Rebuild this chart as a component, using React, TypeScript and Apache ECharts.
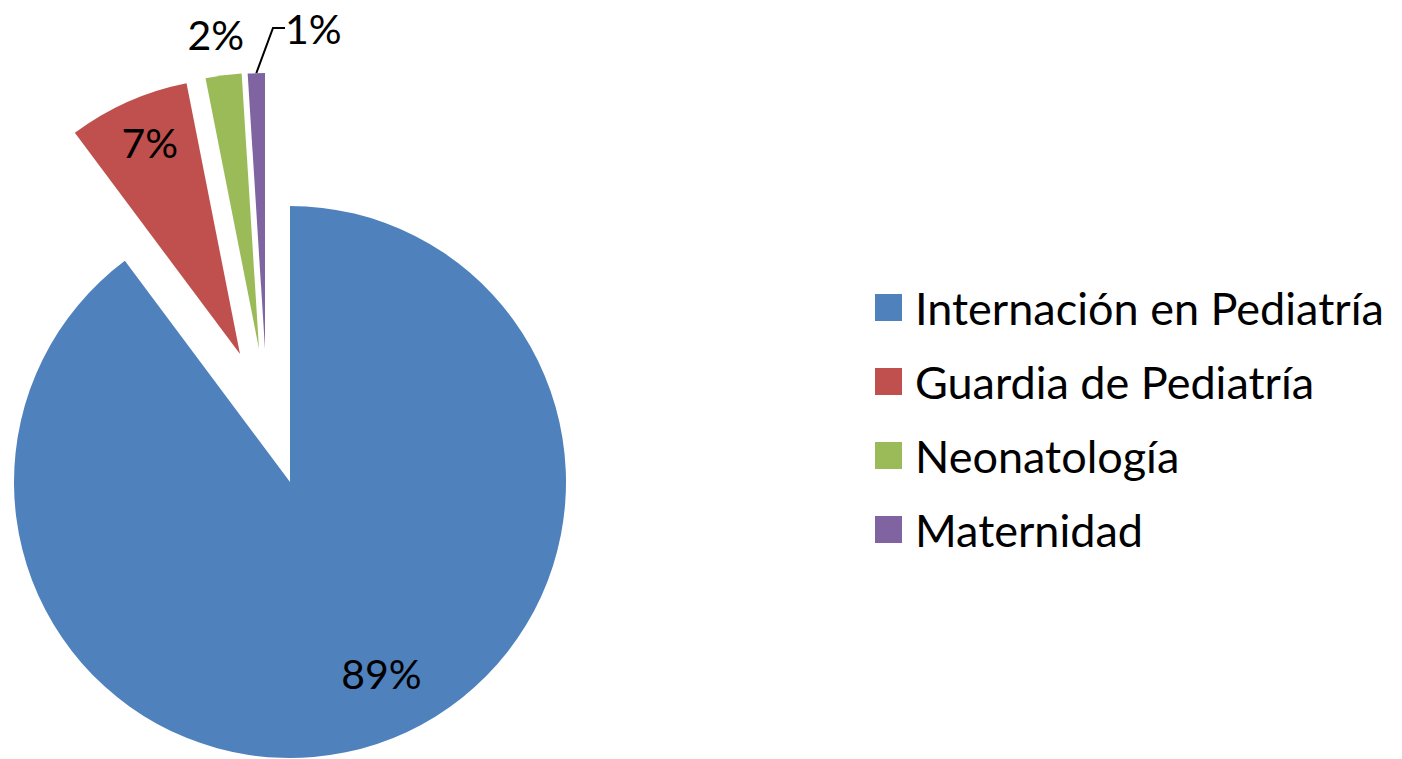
import React, { useEffect, useRef } from "react";
import * as echarts from "echarts";

// ---- data ----
const categories = [
  "Internación en Pediatría",
  "Guardia de Pediatría",
  "Neonatología",
  "Maternidad",
];
const values = [89.7, 7.1, 2.1, 1.0];
const colors = ["#4F81BD", "#C0504D", "#9BBB59", "#8064A2"];

// ---- layout (exploded slices: each slice drawn by its own pie with its own centre) ----
const sliceCenters: [number, number][] = [
  [290, 482],
  [240, 354],
  [259, 349],
  [265, 349],
];
const pieRadius = 276;
const labelShift: [number, number][] = [
  [47, 58],
  [-33, -83],
  [-25, -175],
  [0, 0],
];
const FONT = "Lato, 'Open Sans', sans-serif";

export default function App() {
  const ref = useRef<HTMLDivElement>(null);
  useEffect(() => {
    if (!ref.current) return;
    const chart = echarts.init(ref.current, undefined, { renderer: "svg" });
    const total = values.reduce((a, b) => a + b, 0);
    const series = categories.map((_, si) => ({
      type: "pie",
      center: sliceCenters[si],
      radius: [0, pieRadius],
      startAngle: 90,
      clockwise: true,
      silent: true,
      avoidLabelOverlap: false,
      emphasis: { disabled: true },
      label: {
        show: true,
        position: si === 3 ? "outside" : "inside",
        color: "#000",
        fontFamily: FONT,
        fontSize: 41,
        textBorderWidth: 0,
        formatter: (p: any) => `${Math.floor((p.value / total) * 100)}%`,
      },
      labelLine: {
        show: si === 3,
        length: 30,
        length2: 12,
        lineStyle: { color: "#000", width: 2 },
      },
      labelLayout:
        si === 3
          ? () => ({ x: 285, y: 28, align: "left", verticalAlign: "middle" })
          : () => ({ dx: labelShift[si][0], dy: labelShift[si][1] }),
      data: categories.map((name, i) => ({
        name,
        value: values[i],
        itemStyle: {
          color: i === si ? colors[i] : "rgba(0,0,0,0)",
          borderWidth: 0,
        },
        label: { show: i === si },
        labelLine: { show: i === si && si === 3 },
      })),
    }));
    chart.setOption({
      animation: false,
      backgroundColor: "#fff",
      legend: {
        orient: "vertical",
        left: 875,
        top: 285,
        padding: 0,
        itemWidth: 27,
        itemHeight: 27,
        itemGap: 29,
        icon: "rect",
        selectedMode: false,
        textStyle: {
          fontFamily: FONT,
          fontSize: 45,
          lineHeight: 45,
          color: "#000",
          padding: [0, 0, 0, 8],
        },
        data: categories.map((name, i) => ({
          name,
          itemStyle: { color: colors[i] },
        })),
      },
      series,
    } as any);
    return () => chart.dispose();
  }, []);
  return (
    <div
      ref={ref}
      style={{ position: "fixed", left: 0, top: 0, width: 1402, height: 759 }}
    />
  );
}
